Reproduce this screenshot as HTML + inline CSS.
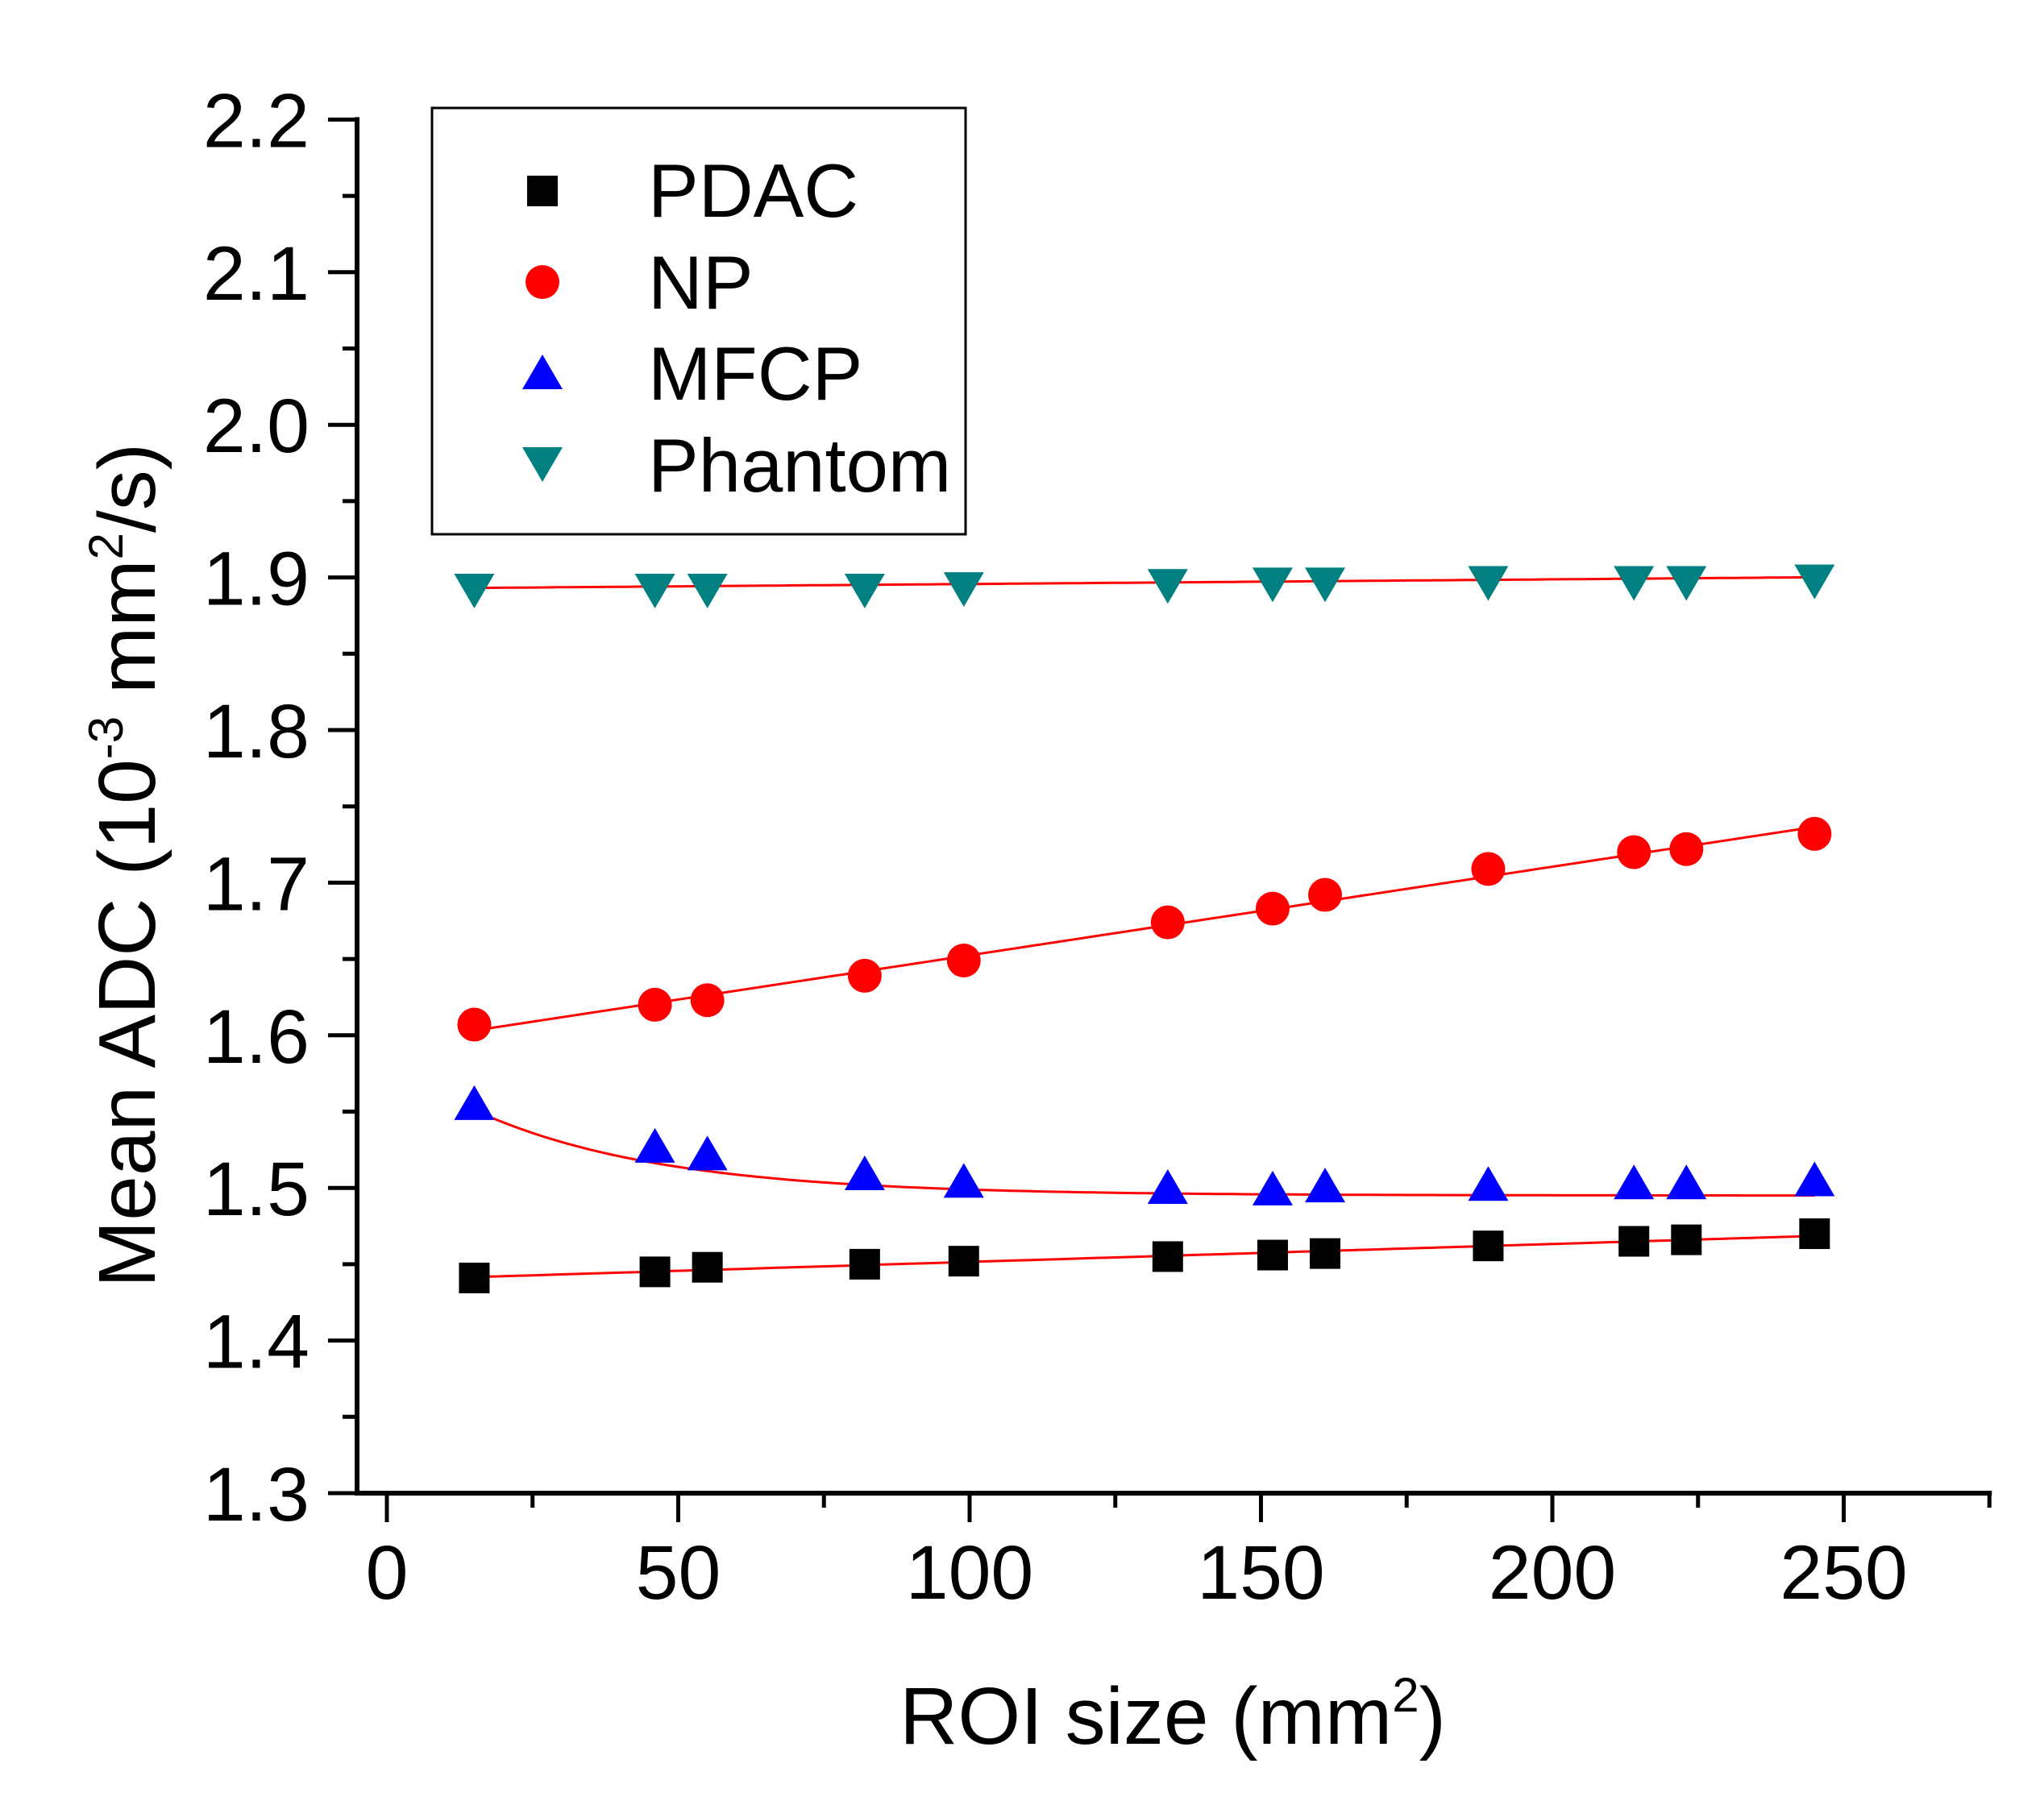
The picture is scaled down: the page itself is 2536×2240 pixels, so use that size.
<!DOCTYPE html>
<html><head><meta charset="utf-8"><style>
html,body{margin:0;padding:0;background:#fff;}
svg{display:block;font-family:"Liberation Sans",Arial,sans-serif;}
</style></head><body>
<svg id="chart" width="2536" height="2240" viewBox="0 0 2536 2240">
<rect width="2536" height="2240" fill="#fff"/>
<g id="axes"></g><g id="fits"></g><g id="marks"></g>
<g>
<rect x="536" y="134" width="662" height="529" fill="#fff" stroke="#000" stroke-width="3"/>
<rect x="654" y="218" width="38" height="38" fill="#000"/>
<text x="804" y="269" font-size="94">PDAC</text>
<circle cx="673" cy="350" r="21" fill="#f00"/>
<text x="804" y="383" font-size="94">NP</text>
<polygon points="673,440 698,483 648,483" fill="#00f"/>
<text x="804" y="496" font-size="94">MFCP</text>
<polygon points="648,555 698,555 673,598" fill="#008080"/>
<text x="804" y="610" font-size="94">Phantom</text>
</g>
<text x="1455" y="2164" font-size="100" text-anchor="middle">ROI size (mm<tspan dy="-40" font-size="60">2</tspan><tspan dy="40">)</tspan></text>
<text transform="translate(192,1074) rotate(-90)" font-size="100" text-anchor="middle">Mean ADC (10<tspan dy="-40" font-size="60">-3</tspan><tspan dy="40"> mm</tspan><tspan dy="-40" font-size="60">2</tspan><tspan dy="40">/s)</tspan></text>
</svg>
<script>
const roiSize = [15, 46, 55, 82, 99, 134, 152, 161, 189, 214, 223, 245];
const pdac = [1.441,1.445,1.448,1.450,1.452,1.455,1.456,1.457,1.462,1.465,1.466,1.470];
const np = [1.607,1.620,1.623,1.639,1.649,1.674,1.683,1.692,1.709,1.720,1.722,1.732];
const mfcp = [1.553,1.525,1.520,1.507,1.502,1.498,1.497,1.499,1.500,1.501,1.501,1.503];
const phantom = [1.894,1.894,1.894,1.894,1.895,1.897,1.898,1.898,1.899,1.899,1.899,1.900];
const xTicks = [0, 50, 100, 150, 200, 250];
const yTicks = [1.3, 1.4, 1.5, 1.6, 1.7, 1.8, 1.9, 2.0, 2.1, 2.2];

const NS = "http://www.w3.org/2000/svg";
const X0 = 480, PXU = 7.23, Y0 = 1853, PYU = 1894;
function sx(v){ return X0 + v*PXU; }
function sy(v){ return Y0 - (v-1.3)*PYU; }
function mk(tag, attrs, parent){ const e=document.createElementNS(NS,tag); for(const k in attrs) e.setAttribute(k,attrs[k]); parent.appendChild(e); return e; }
const axes=document.getElementById('axes'), fits=document.getElementById('fits'), marks=document.getElementById('marks');

let e;
e = mk('line',{x1:443,y1:sy(2.2)-3,x2:443,y2:Y0+3,stroke:'#000','stroke-width':6},axes);


e = mk('line',{x1:440,y1:Y0,x2:sx(275)+3,y2:Y0,stroke:'#000','stroke-width':6},axes);


for(let v=0; v<=275; v+=25){
  const maj = v%50===0;
  e = mk('line',{x1:sx(v),y1:Y0,x2:sx(v),y2:Y0+(maj?36:18),stroke:'#000','stroke-width':5},axes);
  
  
}
xTicks.forEach(v=>{
  e = mk('text',{x:sx(v),y:1984,'font-size':95,'text-anchor':'middle'},axes);
  e.textContent=v;
  
  
});
for(let i=0;i<=18;i++){
  const v=1.3+i*0.05, maj=i%2===0;
  e = mk('line',{x1:443,y1:sy(v),x2:maj?407:425,y2:sy(v),stroke:'#000','stroke-width':5},axes);
  
  
}
yTicks.forEach(v=>{
  e = mk('text',{x:384,y:sy(v)+34,'font-size':95,'text-anchor':'end'},axes);
  e.textContent=v.toFixed(1);
  
  
});

function linFit(xs, ys){
  const n=xs.length; let mx=0,my=0; xs.forEach((x,i)=>{mx+=x;my+=ys[i];}); mx/=n; my/=n;
  let num=0,den=0; xs.forEach((x,i)=>{num+=(x-mx)*(ys[i]-my);den+=(x-mx)*(x-mx);});
  const b=num/den; return x=>my+b*(x-mx);
}
function fitPath(f, name){
  let d=''; for(let x=15;x<=245;x+=2){ d+=(d?'L':'M')+sx(x).toFixed(1)+','+sy(f(x)).toFixed(1); }
  e = mk('path',{d:d,fill:'none',stroke:'#f00','stroke-width':3},fits);
  
  
}
fitPath(linFit(roiSize,pdac),'fit-line-pdac');
fitPath(linFit(roiSize,np),'fit-line-np');
fitPath(linFit(roiSize,phantom),'fit-line-phantom');
const mMin = Math.min(...mfcp.slice(5)), mA = mfcp[0]-mMin;
fitPath(x=>mMin-0.002+mA*Math.exp(-(x-15)/32),'fit-line-mfcp');

roiSize.forEach((x,i)=>{
  const cx=sx(x);
  e = mk('rect',{x:cx-19,y:sy(pdac[i])-19,width:38,height:38,fill:'#000'},marks);
  
  
  e = mk('circle',{cx:cx,cy:sy(np[i]),r:21,fill:'#f00'},marks);
  
  
  const my=sy(mfcp[i]);
  e = mk('polygon',{points:`${cx},${my-27} ${cx+25},${my+16} ${cx-25},${my+16}`,fill:'#00f'},marks);
  
  
  const py=sy(phantom[i]);
  e = mk('polygon',{points:`${cx-25},${py-16} ${cx+25},${py-16} ${cx},${py+27}`,fill:'#008080'},marks);
  
  
});
</script>
</body></html>
